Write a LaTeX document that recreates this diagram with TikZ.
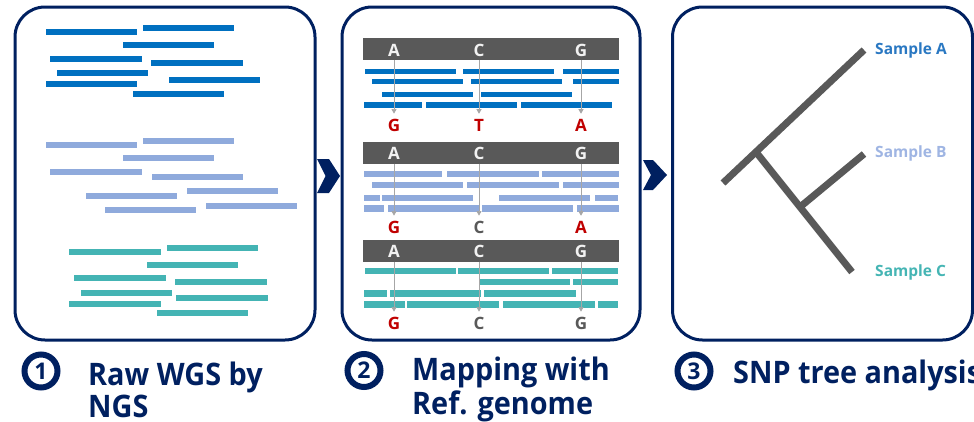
\documentclass[tikz,border=0pt]{standalone}
\usepackage{fontspec}
\IfFontExistsTF{Open Sans Bold}
  {\setmainfont{Open Sans}[BoldFont={Open Sans Bold}]}
  {\IfFontExistsTF{Lato Bold}
    {\setmainfont{Lato}[BoldFont={Lato Bold}]}
    {\setmainfont{Noto Sans}[BoldFeatures={FakeBold=2.5}]}}
\usetikzlibrary{arrows.meta}

\definecolor{navy}{HTML}{002060}
\definecolor{readdark}{HTML}{0070C0}
\definecolor{readlight}{HTML}{8FAADC}
\definecolor{readteal}{HTML}{44B4B4}
\definecolor{barfill}{HTML}{595959}
\definecolor{snpred}{HTML}{C00000}
\definecolor{guide}{HTML}{A6A6A6}
\definecolor{labA}{HTML}{2A78C2}
\definecolor{labB}{HTML}{9FB5E3}
\definecolor{labC}{HTML}{45B5B4}

\tikzset{
  panel/.style={draw=navy, line width=3pt, rounded corners=30pt, fill=white,
    minimum width=#1, minimum height=333pt, inner sep=0pt, outer sep=0pt},
  chevron/.style={fill=navy, draw=none},
  rdark/.style={fill=readdark, draw=white, line width=0.6pt},
  rlight/.style={fill=readlight, draw=white, line width=0.6pt},
  rteal/.style={fill=readteal, draw=white, line width=0.6pt},
  refbar/.style={fill=barfill, draw=none, minimum width=256pt, minimum height=22pt,
    inner sep=0pt, outer sep=0pt},
  base/.style={font=\bfseries\fontsize{17}{17}\selectfont, inner sep=0pt},
  refbase/.style={base, text=white!95!black},
  altbase/.style={base, text=snpred},
  samebase/.style={base, text=barfill},
  guideline/.style={draw=guide, line width=0.6pt,
    -{Triangle[width=5pt,length=4.5pt]}, shorten >=0pt},
  branch/.style={draw=barfill, line width=7pt, line cap=butt},
  sample/.style={font=\bfseries\fontsize{15.5}{15.5}\selectfont, inner sep=0pt, anchor=west},
  stepnum/.style={circle, draw=navy, line width=6pt, minimum size=33pt, inner sep=0pt,
    text=navy, font=\bfseries\fontsize{23}{23}\selectfont},
  caption/.style={font=\bfseries\fontsize{31}{33}\selectfont\addfontfeatures{FakeStretch=0.93},
    text=navy, inner sep=0pt, anchor=base west},
}

\begin{document}
\begin{tikzpicture}[x=1pt, y=-1pt]
\useasboundingbox (0,0) rectangle (974,421);

% ---- three panels ----
\node[panel=300pt] (p1) at (165,173.5) {};
\node[panel=298pt] (p2) at (491,173.5) {};
\node[panel=300pt] (p3) at (822.5,173.5) {};

% ---- chevrons between panels ----
\fill[chevron] (317,159) -- (329,159) -- (340,176) -- (329,193) -- (317,193) -- (325.5,176) -- cycle;
\fill[chevron] (643,160) -- (653,160) -- (667,175) -- (653,190) -- (643,190) -- (651,175) -- cycle;

% ---- panel 1: raw reads ----
\foreach \a/\b/\c/\d in {45/28/137/35, 142/24/234/31, 122/41/214/48, 49/55/142/62,
  150/59/243/66, 56/69/148/76, 45/80/137/87, 168/76/260/83, 132/90/224/97}
  \filldraw[rdark] (\a,\b) rectangle (\c,\d);
\foreach \a/\b/\c/\d in {45/141/137/148, 142/137/234/144, 122/154/214/161, 49/168/142/175,
  151/173/243/180, 85/192/177/199, 186/187/278/194, 104/206/196/213, 205/202/297/209}
  \filldraw[rlight] (\a,\b) rectangle (\c,\d);
\foreach \a/\b/\c/\d in {68/248/161/255, 166/244/258/251, 146/261/238/268, 73/274/166/281,
  174/278/267/285, 80/289/172/296, 175/294/268/301, 68/300/161/307, 156/309/248/316}
  \filldraw[rteal] (\a,\b) rectangle (\c,\d);

% ---- panel 2: reads mapped on the reference ----
\node[refbar] (bar1) at (491,49) {};
\node[refbar] (bar2) at (491,152.5) {};
\node[refbar] (bar3) at (491,250.5) {};

\foreach \a/\b/\c/\d in {364/68/456/74, 462/68/554/74, 562/68/619/74,
  371/78/463/84, 470/78/562/84, 572/78/619/84,
  381/91/473/97, 480/91/572/97,
  363/101/422/108, 425/101/517/108, 520/101/612/108}
  \filldraw[rdark] (\a,\b) rectangle (\c,\d);
\foreach \a/\b/\c/\d in {363/170/442/177, 446/170/539/177, 541/170/619/177,
  371/181/463/188, 466/181/559/188, 562/181/619/188,
  363/194/380/201, 381/194/473/201, 498/194/590/201, 594/194/618/201,
  363/204/384/212, 387/204/479/212, 481/204/573/212, 576/204/619/212}
  \filldraw[rlight] (\a,\b) rectangle (\c,\d);
\foreach \a/\b/\c/\d in {364/267/456/274, 457/267/549/274, 551/267/618/274,
  478/278/570/285, 572/278/618/285,
  363/289/387/297, 389/289/481/297, 483/289/576/297,
  363/300/405/308, 406/300/499/308, 502/300/595/308, 597/300/618/308}
  \filldraw[rteal] (\a,\b) rectangle (\c,\d);

% reference bases
\foreach \r/\y in {1/50, 2/153, 3/251} {
  \node[refbase] (r\r a) at (394,\y) {A};
  \node[refbase] (r\r c) at (479,\y) {C};
  \node[refbase] (r\r g) at (581,\y) {G};
}

% called bases
\node[altbase]  (s1a) at (394,125) {G};
\node[altbase]  (s1c) at (479,125) {T};
\node[altbase]  (s1g) at (581,125) {A};
\node[altbase]  (s2a) at (394,227) {G};
\node[samebase] (s2c) at (479,227) {C};
\node[altbase]  (s2g) at (581,227) {A};
\node[altbase]  (s3a) at (394,323) {G};
\node[samebase] (s3c) at (479,323) {C};
\node[samebase] (s3g) at (581,323) {G};

% guide lines from the reference bar to each called base
\foreach \r in {1,2,3} {
  \foreach \b in {a,c,g} {
    \draw[guideline] (r\r\b |- bar\r.south) -- ([yshift=5pt]s\r\b.north);
  }
}

% ---- panel 3: SNP tree ----
\coordinate (root) at (723,183);
\coordinate (tipA) at (864,50);
\coordinate (j1) at (756,152);
\coordinate (tipC) at (852,272);
\coordinate (j2) at (800,207);
\coordinate (tipB) at (864,154);
\draw[branch] (root) -- (tipA);
\draw[branch] (j1) -- (tipC);
\draw[branch] (j2) -- (tipB);

\node[sample, text=labA] (sampA) at (875,50) {Sample A};
\node[sample, text=labB] (sampB) at (875,153) {Sample B};
\node[sample, text=labC] (sampC) at (875,272) {Sample C};

% ---- step captions ----
\node[stepnum] (n1) at (41,371) {1};
\node[stepnum] (n2) at (364,370.5) {2};
\node[stepnum] (n3) at (694,371) {3};

\node[caption] (c1a) at (88,385) {Raw WGS by};
\node[caption] (c1b) at (88,417) {NGS};
\node[caption] (c2a) at (412,380) {Mapping with};
\node[caption] (c2b) at (412,414) {Ref. genome};
\node[caption] (c3a) at (733,383) {SNP tree analysis};
\end{tikzpicture}
\end{document}
